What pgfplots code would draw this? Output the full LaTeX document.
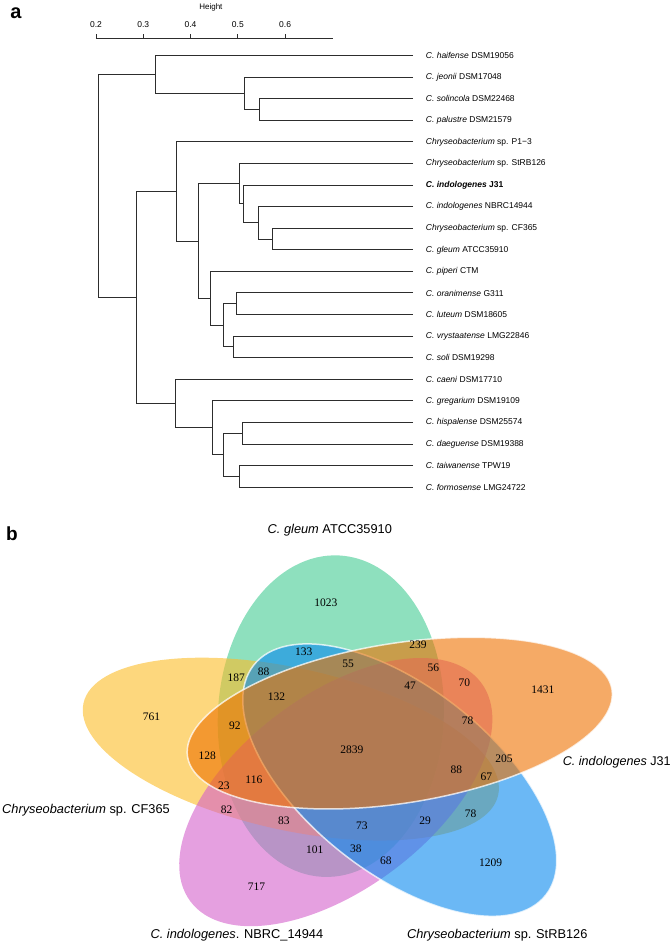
\documentclass[border=0pt]{standalone}
\usepackage{pgfplots}
\pgfplotsset{compat=1.18}
\usepackage{pgfplotstable}
\usepackage{fontspec}
\setmainfont{Liberation Sans}
\newfontfamily\serifnum{Liberation Serif}
\definecolor{vgreen}{RGB}{67,203,147}
\definecolor{vyellow}{RGB}{252,188,38}
\definecolor{vpink}{RGB}{212,97,203}
\definecolor{vblue}{RGB}{8,137,238}
\definecolor{vorange}{RGB}{238,113,0}
\definecolor{dline}{RGB}{45,45,45}
\tikzset{leaf/.style={anchor=west,inner sep=0pt,font=\fontsize{8.5}{10}\selectfont}}
\pgfplotsset{dend/.style={color=dline,line width=1pt}}

\pgfplotstableread{
x y n
326 603 1023
304 651.7 133
348.3 663.3 55
418.3 644.3 239
433.7 667.7 56
464.7 682.7 70
236.3 677.3 187
263.7 671.7 88
410.3 685.3 47
276.7 696.7 132
543.3 689.3 1431
151.7 716.3 761
235 726 92
468 720.7 78
352 750 2839
207.3 756 128
504.3 758.7 205
456.7 769.3 88
486.7 776.7 67
254 780 116
224 786 23
226.7 810 82
284 820.7 83
362 826 73
425.3 820.7 29
471 813.3 78
315 849.3 101
356 848.3 38
386 860.7 68
491 862.7 1209
256.7 886.7 717
}\venndata

\begin{document}
\begin{tikzpicture}
\begin{axis}[width=672pt,height=945pt,scale only axis,
  xmin=0,xmax=672,ymin=0,ymax=945,y dir=reverse,hide axis,clip=false]
\path (rel axis cs:0,0) rectangle (rel axis cs:1,1);

% ---------- dendrogram ----------
\addplot[dend] coordinates {(413.3,98.2) (259.3,98.2) (259.3,119.8) (413.3,119.8)};
\addplot[dend] coordinates {(413.3,76.6) (244.3,76.6) (244.3,109) (259.3,109)};
\addplot[dend] coordinates {(413.3,55) (156,55) (156,92.8) (244.3,92.8)};
\addplot[dend] coordinates {(413.3,227.8) (272.7,227.8) (272.7,249.4) (413.3,249.4)};
\addplot[dend] coordinates {(413.3,206.2) (259,206.2) (259,238.6) (272.7,238.6)};
\addplot[dend] coordinates {(413.3,184.6) (243.7,184.6) (243.7,222.4) (259,222.4)};
\addplot[dend] coordinates {(413.3,163) (240,163) (240,203.5) (243.7,203.5)};
\addplot[dend] coordinates {(413.3,292.6) (236.7,292.6) (236.7,314.2) (413.3,314.2)};
\addplot[dend] coordinates {(413.3,335.8) (234,335.8) (234,357.4) (413.3,357.4)};
\addplot[dend] coordinates {(236.7,303.4) (223.3,303.4) (223.3,346.6) (234,346.6)};
\addplot[dend] coordinates {(413.3,271) (211,271) (211,325) (223.3,325)};
\addplot[dend] coordinates {(240,183.25) (198.3,183.25) (198.3,298) (211,298)};
\addplot[dend] coordinates {(413.3,141.4) (176.7,141.4) (176.7,240.6) (198.3,240.6)};
\addplot[dend] coordinates {(413.3,422.2) (242.3,422.2) (242.3,443.8) (413.3,443.8)};
\addplot[dend] coordinates {(413.3,465.4) (240,465.4) (240,487) (413.3,487)};
\addplot[dend] coordinates {(242.3,433) (223.3,433) (223.3,476.2) (240,476.2)};
\addplot[dend] coordinates {(413.3,400.6) (212.7,400.6) (212.7,454.6) (223.3,454.6)};
\addplot[dend] coordinates {(413.3,379) (175.7,379) (175.7,427.6) (212.7,427.6)};
\addplot[dend] coordinates {(176.7,191) (136.7,191) (136.7,403.3) (175.7,403.3)};
\addplot[dend] coordinates {(156,73.9) (98.3,73.9) (98.3,297.2) (136.7,297.2)};

% height scale
\addplot[color=dline,line width=0.8pt] coordinates {(96,37.7) (333.3,37.7)};
\addplot[color=dline,line width=0.8pt] coordinates {(96,37.7) (96,33.3)};
\addplot[color=dline,line width=0.8pt] coordinates {(143.3,37.7) (143.3,33.3)};
\addplot[color=dline,line width=0.8pt] coordinates {(190.6,37.7) (190.6,33.3)};
\addplot[color=dline,line width=0.8pt] coordinates {(238,37.7) (238,33.3)};
\addplot[color=dline,line width=0.8pt] coordinates {(285.3,37.7) (285.3,33.3)};
\node[font=\fontsize{8.5}{10}\selectfont] at (axis cs:96,24) {0.2};
\node[font=\fontsize{8.5}{10}\selectfont] at (axis cs:143.3,24) {0.3};
\node[font=\fontsize{8.5}{10}\selectfont] at (axis cs:190.6,24) {0.4};
\node[font=\fontsize{8.5}{10}\selectfont] at (axis cs:238,24) {0.5};
\node[font=\fontsize{8.5}{10}\selectfont] at (axis cs:285.3,24) {0.6};
\node[font=\fontsize{8}{9}\selectfont] at (axis cs:211,6.5) {Height};

\node[font=\bfseries\fontsize{20}{22}\selectfont] at (axis cs:16,13) {a};
\node[font=\bfseries\fontsize{19}{22}\selectfont] at (axis cs:12,533) {b};

% leaf labels
\node[leaf] at (axis cs:426,55) {\textit{C. haifense} DSM19056};
\node[leaf] at (axis cs:426,76.6) {\textit{C. jeonii} DSM17048};
\node[leaf] at (axis cs:426,98.2) {\textit{C. solincola} DSM22468};
\node[leaf] at (axis cs:426,119.8) {\textit{C. palustre} DSM21579};
\node[leaf] at (axis cs:426,141.4) {\textit{Chryseobacterium} sp. P1−3};
\node[leaf] at (axis cs:426,163) {\textit{Chryseobacterium} sp. StRB126};
\node[leaf] at (axis cs:426,184.6) {\bfseries\textit{C. indologenes} J31};
\node[leaf] at (axis cs:426,206.2) {\textit{C. indologenes} NBRC14944};
\node[leaf] at (axis cs:426,227.8) {\textit{Chryseobacterium} sp. CF365};
\node[leaf] at (axis cs:426,249.4) {\textit{C. gleum} ATCC35910};
\node[leaf] at (axis cs:426,271) {\textit{C. piperi} CTM};
\node[leaf] at (axis cs:426,292.6) {\textit{C. oranimense} G311};
\node[leaf] at (axis cs:426,314.2) {\textit{C. luteum} DSM18605};
\node[leaf] at (axis cs:426,335.8) {\textit{C. vrystaatense} LMG22846};
\node[leaf] at (axis cs:426,357.4) {\textit{C. soli} DSM19298};
\node[leaf] at (axis cs:426,379) {\textit{C. caeni} DSM17710};
\node[leaf] at (axis cs:426,400.6) {\textit{C. gregarium} DSM19109};
\node[leaf] at (axis cs:426,422.2) {\textit{C. hispalense} DSM25574};
\node[leaf] at (axis cs:426,443.8) {\textit{C. daeguense} DSM19388};
\node[leaf] at (axis cs:426,465.4) {\textit{C. taiwanense} TPW19};
\node[leaf] at (axis cs:426,487) {\textit{C. formosense} LMG24722};

% ---------- Venn ----------
\fill[vgreen,fill opacity=0.6,rotate around={-3:(axis cs:331,716)}]
  (axis cs:331,716) ellipse [x radius=113pt,y radius=161pt];
\fill[vyellow,fill opacity=0.6,rotate around={-12.5:(axis cs:291,749)}]
  (axis cs:291,749) ellipse [x radius=212.5pt,y radius=81pt];
\fill[vpink,fill opacity=0.6,rotate around={37:(axis cs:336,792)}]
  (axis cs:336,792) ellipse [x radius=182pt,y radius=97pt];
\path[fill=vblue,fill opacity=0.6,draw=white,draw opacity=0.75,line width=1.5pt,rotate around={-38.2:(axis cs:400,780)}]
  (axis cs:400,780) ellipse [x radius=186pt,y radius=93pt];
\path[fill=vorange,fill opacity=0.6,draw=white,draw opacity=0.75,line width=1.5pt,rotate around={9:(axis cs:400,723)}]
  (axis cs:400,723) ellipse [x radius=215pt,y radius=80pt];

\addplot[only marks,mark=none,nodes near coords,point meta=explicit symbolic,
  every node near coord/.append style={anchor=center,inner sep=0pt,text=black,
  font=\serifnum\fontsize{11.5}{12}\selectfont}]
  table[x=x,y=y,meta=n] {\venndata};

\node[font=\fontsize{12.8}{14}\selectfont] at (axis cs:330,530) {\textit{C. gleum} ATCC35910};
\node[anchor=west,inner sep=0pt,font=\fontsize{12.6}{14}\selectfont] at (axis cs:563,762) {\textit{C. indologenes} J31};
\node[anchor=west,inner sep=0pt,font=\fontsize{12.8}{14}\selectfont] at (axis cs:2,810) {\textit{Chryseobacterium} sp. CF365};
\node[font=\fontsize{12.8}{14}\selectfont] at (axis cs:237,935) {\textit{C. indologenes}. NBRC\_14944};
\node[font=\fontsize{12.8}{14}\selectfont] at (axis cs:497.5,935) {\textit{Chryseobacterium} sp. StRB126};
\end{axis}
\end{tikzpicture}
\end{document}
